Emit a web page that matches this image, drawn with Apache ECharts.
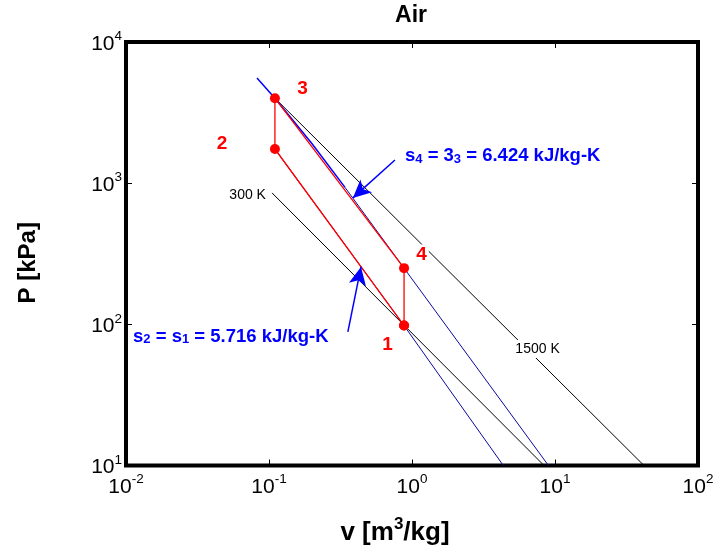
<!DOCTYPE html>
<html><head><meta charset="utf-8">
<script src="https://cdn.jsdelivr.net/npm/echarts@6/dist/echarts.min.js"></script>
<style>html,body{margin:0;padding:0;background:#fff}#c{width:717px;height:552px}</style>
</head><body><div id="c"></div>
<script>
// ---- data (v in m3/kg, P in kPa) ----
const xTicks = [0.01, 0.1, 1, 10, 100];
const yTicks = [10, 100, 1000, 10000];

const stateNames = ['1', '2', '3', '4'];
const stateV = [0.88, 0.110, 0.110, 0.88];
const stateP = [98, 1746, 4000, 250];
const cycleOrder = [0, 1, 2, 3, 0];

// isentrope s = 5.716 kJ/kg-K (through 1 and 2)
const s12V = [0.110, 0.88, 4.35];
const s12P = [1746, 98, 10];
// isentrope s = 6.424 kJ/kg-K (through 3 and 4)
const s34UpperV = [0.0824, 0.110, 0.200, 0.340];
const s34UpperP = [5560, 4000, 1900, 933];
const s34LowerV = [0.340, 0.88, 9.0];
const s34LowerP = [933, 250, 10];
// isotherms
const t300V = [0.105, 8.38];
const t300P = [853, 10];
const t1500V = [0.110, 41.9];
const t1500P = [4000, 10];

// text annotations (anchor in data coordinates)
const isoLabels = ['300 K', '1500 K'];
const isoLabelV = [0.0709, 7.55];
const isoLabelP = [818, 67];
const stateLabelV = [0.675, 0.0469, 0.1714, 1.165];
const stateLabelP = [71.5, 1895, 4688, 310];
const entropyNotes = ['s4', '33', '6.424 kJ/kg-K', 's2', 's1', '5.716 kJ/kg-K'];
const noteV = [0.893, 0.0112];
const noteP = [1559, 81.5];
// arrows: tail -> tip
const arrowTailV = [0.760, 0.356];
const arrowTailP = [1460, 88.3];
const arrowTipV = [0.386, 0.440];
const arrowTipP = [786, 255];

const zip = (a, b) => a.map((x, i) => [x, b[i]]);
const FONT = '"Liberation Sans", Arial, Helvetica, sans-serif';
const RED = '#ff0000', BLUE = '#0000ff', NAVY = '#0a0a9c';

const tickRich = {
  b: { fontSize: 21, lineHeight: 25, verticalAlign: 'bottom', fontFamily: FONT, color: '#000' },
  s: { fontSize: 13.5, lineHeight: 13, verticalAlign: 'top', fontFamily: FONT, color: '#000' }
};
const tickFmt = v => '{b|10}{s|' + Math.round(Math.log10(v)) + '}';

const noteRich = {
  t: { fontSize: 18.5, fontWeight: 'bold', lineHeight: 19, verticalAlign: 'top', color: BLUE, fontFamily: FONT },
  u: { fontSize: 13, fontWeight: 'bold', lineHeight: 13, verticalAlign: 'bottom', padding: [10, 0, 0, 0], color: BLUE, fontFamily: FONT }
};
const sub = s => '{t|' + s[0] + '}{u|' + s.slice(1) + '}';

const labelData = [];
stateNames.forEach((n, i) => labelData.push({
  value: [stateLabelV[i], stateLabelP[i]],
  label: { show: true, position: 'inside', formatter: n, color: RED, fontSize: 19, fontWeight: 'bold',
           fontFamily: FONT, backgroundColor: '#fff', padding: [1, 2] }
}));
isoLabels.forEach((n, i) => labelData.push({
  value: [isoLabelV[i], isoLabelP[i]],
  label: { show: true, position: 'inside', formatter: n, color: '#000', fontSize: 14,
           fontFamily: FONT, backgroundColor: '#fff', padding: [2, 2] }
}));
labelData.push({
  value: [noteV[0], noteP[0]],
  label: { show: true, position: 'right', distance: 0, rich: noteRich,
           formatter: sub(entropyNotes[0]) + '{t| = }' + sub(entropyNotes[1]) + '{t| = ' + entropyNotes[2] + '}' }
});
labelData.push({
  value: [noteV[1], noteP[1]],
  label: { show: true, position: 'right', distance: 0, rich: noteRich,
           formatter: sub(entropyNotes[3]) + '{t| = }' + sub(entropyNotes[4]) + '{t| = ' + entropyNotes[5] + '}' }
});

const arrows = arrowTailV.map((v, i) => [
  { coord: [v, arrowTailP[i]], symbol: 'none' },
  { coord: [arrowTipV[i], arrowTipP[i]], symbol: 'arrow', symbolSize: [13, 18] }
]);

const baseX = { type: 'log', logBase: 10, min: xTicks[0], max: xTicks[xTicks.length - 1], splitNumber: 4,
  axisLine: { show: false }, splitLine: { show: false }, minorTick: { show: false },
  axisTick: { show: true, inside: true, length: 6, lineStyle: { color: '#000', width: 1 } } };
const baseY = { type: 'log', logBase: 10, min: yTicks[0], max: yTicks[yTicks.length - 1], splitNumber: 3,
  axisLine: { show: false }, splitLine: { show: false }, minorTick: { show: false },
  axisTick: { show: true, inside: true, length: 6, lineStyle: { color: '#000', width: 1 } } };

const chart = echarts.init(document.getElementById('c'), null, { renderer: 'canvas' });
chart.setOption({
  animation: false,
  backgroundColor: '#fff',
  title: { text: 'Air', left: 411, textAlign: 'center', top: 4, padding: 0,
           textStyle: { fontSize: 23, fontWeight: 'bold', color: '#000', fontFamily: FONT } },
  grid: { left: 126, right: 19, top: 42, bottom: 86.5, show: true, borderColor: '#000', borderWidth: 4, backgroundColor: '#fff' },
  xAxis: [
    Object.assign({}, baseX, {
      position: 'bottom',
      name: '{n|v [m}{sp|3}{n|/kg]}', nameLocation: 'middle', nameGap: 50,
      nameTextStyle: { padding: [0, 34, 0, 0],
        rich: {
          n: { fontSize: 26, fontWeight: 'bold', verticalAlign: 'bottom', lineHeight: 30, fontFamily: FONT, color: '#000' },
          sp: { fontSize: 17, fontWeight: 'bold', verticalAlign: 'top', lineHeight: 17, fontFamily: FONT, color: '#000' } } },
      axisLabel: { show: true, margin: 7, formatter: tickFmt, rich: tickRich }
    }),
    Object.assign({}, baseX, { position: 'top', axisLabel: { show: false } })
  ],
  yAxis: [
    Object.assign({}, baseY, {
      position: 'left',
      name: 'P [kPa]', nameLocation: 'middle', nameGap: 86, nameRotate: 90,
      nameTextStyle: { fontSize: 24, fontWeight: 'bold', color: '#000', fontFamily: FONT, padding: [0, 18, 0, 0] },
      axisLabel: { show: true, margin: 4, formatter: tickFmt, rich: tickRich }
    }),
    Object.assign({}, baseY, { position: 'right', axisLabel: { show: false } })
  ],
  series: [
    { type: 'line', name: '300 K', data: zip(t300V, t300P), showSymbol: false, silent: true,
      lineStyle: { color: '#000', width: 1 } },
    { type: 'line', name: '1500 K', data: zip(t1500V, t1500P), showSymbol: false, silent: true,
      lineStyle: { color: '#000', width: 1 } },
    { type: 'line', name: 's=5.716', data: zip(s12V, s12P), showSymbol: false, silent: true,
      lineStyle: { color: NAVY, width: 1 } },
    { type: 'line', name: 's=6.424 upper', data: zip(s34UpperV, s34UpperP), showSymbol: false, silent: true,
      lineStyle: { color: BLUE, width: 1.5 } },
    { type: 'line', name: 's=6.424 lower', data: zip(s34LowerV, s34LowerP), showSymbol: false, silent: true,
      lineStyle: { color: NAVY, width: 1 } },
    { type: 'line', name: 'cycle', data: cycleOrder.map(i => [stateV[i], stateP[i]]),
      symbol: 'circle', symbolSize: 10, showSymbol: true, silent: true,
      itemStyle: { color: RED, opacity: 1 }, lineStyle: { color: RED, width: 1.3 } },
    { type: 'scatter', name: 'labels', z: 10, symbolSize: 0, silent: true, data: labelData,
      itemStyle: { opacity: 1 },
      markLine: { silent: true, symbol: ['none', 'arrow'], label: { show: false },
        lineStyle: { color: BLUE, width: 1.5, type: 'solid', opacity: 1 }, data: arrows } }
  ]
});
</script>
</body></html>
